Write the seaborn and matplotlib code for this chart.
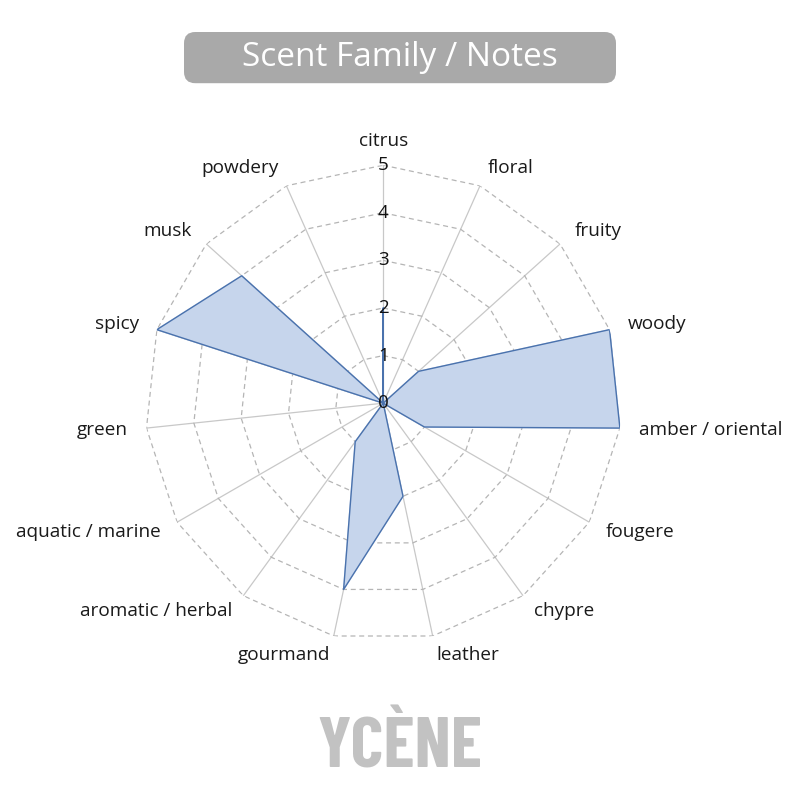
import numpy as np
import matplotlib
matplotlib.use("Agg")
import matplotlib.pyplot as plt
import seaborn as sns
from matplotlib.patches import FancyBboxPatch

# scent families, clockwise from the top
categories = ["citrus", "floral", "fruity", "woody", "amber / oriental",
              "fougere", "chypre", "leather", "gourmand", "aromatic / herbal",
              "aquatic / marine", "green", "spicy", "musk", "powdery"]
values = [2, 0, 1, 5, 5, 1, 0, 2, 4, 1, 0, 0, 5, 4, 0]
rticks = [0, 1, 2, 3, 4, 5]

sns.set_theme(style="white")
plt.rcParams["font.family"] = ["Open Sans", "DejaVu Sans"]

n = len(categories)
theta = np.linspace(0, 2 * np.pi, n, endpoint=False)
theta_c = np.append(theta, theta[0])
vals_c = np.append(values, values[0])

fig = plt.figure(figsize=(8, 8), dpi=100)
ax = fig.add_axes([0.479 - 0.2975, 0.496 - 0.2975, 0.595, 0.595], polar=True)
ax.set_theta_zero_location("N")
ax.set_theta_direction(-1)
ax.set_ylim(0, 5)
ax.spines["polar"].set_visible(False)
ax.grid(False)

# spokes
for t in theta:
    ax.plot([t, t], [0, 5], color="#c8c8c8", lw=0.9, zorder=1)
# dashed polygon rings
for r in rticks[1:]:
    ax.plot(theta_c, [r] * (n + 1), color="#b5b5b5", lw=0.9,
            ls=(0, (4, 3)), zorder=1)

ax.fill(theta_c, vals_c, color="#c6d5ec", alpha=1.0, zorder=2)
ax.plot(theta_c, vals_c, color="#4a72ad", lw=1.0, zorder=3)

ax.set_xticks([])
ax.set_yticks([])
for r in rticks:
    ax.text(0, r, str(r), ha="center", va="center", fontsize=13.5,
            color="#111111", zorder=4)

for t, lab in zip(theta, categories):
    s = np.sin(t)
    if s > 0.05:
        ha = "left"
    elif s < -0.05:
        ha = "right"
    else:
        ha = "center"
    rr = 5.5 if ha == "center" else 5.4
    ax.text(t, rr, lab, ha=ha, va="center", fontsize=13.7, color="#1a1a1a")

# title box
box = FancyBboxPatch((0.23, 0.896), 0.54, 0.064,
                     boxstyle="round,pad=0,rounding_size=0.014",
                     transform=fig.transFigure, facecolor="#a9a9a9",
                     edgecolor="none")
fig.patches.append(box)
fig.text(0.5, 0.928, "Scent Family / Notes", ha="center", va="center",
         fontsize=24, color="white")

fig.text(0.5, 0.04, "YCÈNE", ha="center", va="baseline", fontsize=51,
         fontweight="bold", color="#c2c2c2",
         family=["Barlow Condensed", "Oswald", "DejaVu Sans"])

fig.savefig("out.png", dpi=100, facecolor="white")
